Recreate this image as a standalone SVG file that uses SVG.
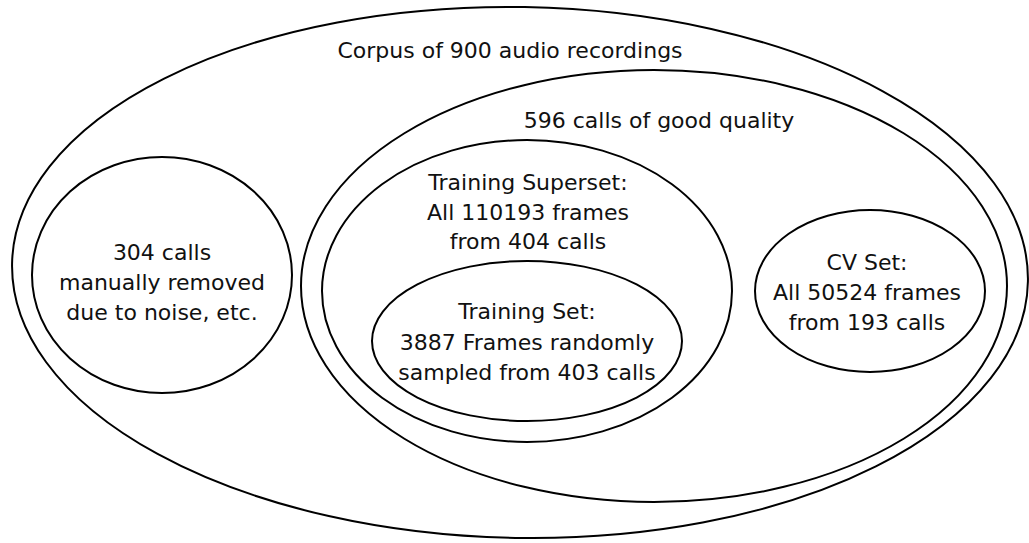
<svg xmlns="http://www.w3.org/2000/svg" width="1029" height="543" viewBox="0 0 1029 543">
<style>
.e{fill:none;stroke:#000;stroke-width:2}
text{font-family:"DejaVu Sans",sans-serif;font-size:22px;fill:#111;text-anchor:middle}
</style>
<rect width="1029" height="543" fill="#fff"/>
<g id="corpus">
<ellipse class="e" cx="520" cy="272.5" rx="508" ry="265.5" transform="rotate(1 520 272.5)"/>
<text x="510" y="58">Corpus of 900 audio recordings</text>
</g>
<g id="removed">
<ellipse class="e" cx="162" cy="275" rx="130" ry="118"/>
<text x="162" y="260">304 calls</text>
<text x="162" y="290">manually removed</text>
<text x="162" y="320">due to noise, etc.</text>
</g>
<g id="good">
<ellipse class="e" cx="654" cy="286" rx="353" ry="216"/>
<text x="659" y="128">596 calls of good quality</text>
</g>
<g id="superset">
<ellipse class="e" cx="527" cy="291" rx="205" ry="151"/>
<text x="528" y="190">Training Superset:</text>
<text x="528" y="220">All 110193 frames</text>
<text x="528" y="249">from 404 calls</text>
</g>
<g id="training">
<ellipse class="e" cx="527" cy="341" rx="155" ry="80"/>
<text x="527" y="319">Training Set:</text>
<text x="527" y="350">3887 Frames randomly</text>
<text x="527" y="380">sampled from 403 calls</text>
</g>
<g id="cv">
<ellipse class="e" cx="870" cy="291" rx="115" ry="81"/>
<text x="867" y="270">CV Set:</text>
<text x="867" y="300">All 50524 frames</text>
<text x="867" y="330">from 193 calls</text>
</g>
<g id="connectors"/>
</svg>
